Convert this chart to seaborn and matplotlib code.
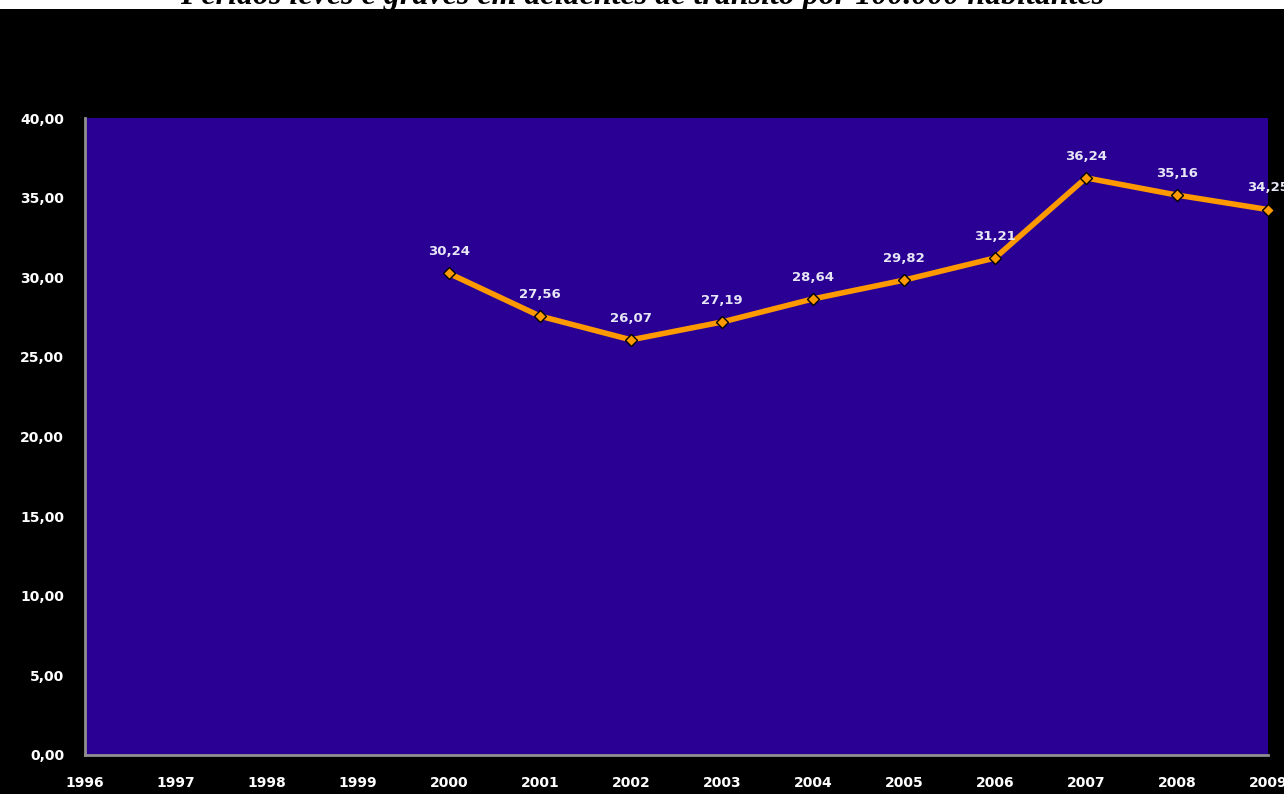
import matplotlib
matplotlib.use("Agg")
import matplotlib.pyplot as plt
import seaborn as sns
import pandas as pd
from matplotlib.patches import Rectangle

years = [2000, 2001, 2002, 2003, 2004, 2005, 2006, 2007, 2008, 2009]
values = [30.24, 27.56, 26.07, 27.19, 28.64, 29.82, 31.21, 36.24, 35.16, 34.25]
tick_years = list(range(1996, 2010))
title = "Feridos leves e graves em acidentes de trânsito por 100.000 habitantes"

sns.set_style("white")
plt.rcParams['font.family'] = ['DejaVu Sans']

df = pd.DataFrame({"ano": years, "valor": values})

fig = plt.figure(figsize=(12.84, 7.94), dpi=100, facecolor="black")
# white strip at the very top where the (cropped) title sits
fig.patches.append(Rectangle((0, 1 - 9/794), 1, 9/794, transform=fig.transFigure,
                             facecolor="white", edgecolor="none", zorder=0))

ax = fig.add_axes([85/1284, 39/794, 1183/1284, 637/794])
ax.set_facecolor("#2a0094")

sns.lineplot(data=df, x="ano", y="valor", ax=ax, color="#ff9900", linewidth=4,
             marker="D", markersize=6, markerfacecolor="#ff9900",
             markeredgecolor="black", markeredgewidth=1.0, clip_on=False)

for x, y in zip(years, values):
    ax.annotate(f"{y:.2f}".replace(".", ","), (x, y), xytext=(0, 11),
                textcoords="offset points", ha="center", va="bottom",
                color="#e6e6f5", fontsize=9.5, fontweight="bold", annotation_clip=False)

ax.set_xlim(1996, 2009)
ax.set_ylim(0, 40)
ax.set_xticks(tick_years)
ax.set_xticklabels([str(t) for t in tick_years])
ax.set_yticks(range(0, 41, 5))
ax.set_yticklabels([f"{v:.2f}".replace(".", ",") for v in range(0, 41, 5)])
ax.tick_params(axis="both", colors="#a0a0a0", labelcolor="white", labelsize=10,
               length=5, width=1.5, direction="out")
ax.tick_params(axis="y", pad=10)
ax.tick_params(axis="x", pad=10)
for lab in ax.get_xticklabels() + ax.get_yticklabels():
    lab.set_fontweight("bold")
ax.set_xlabel("")
ax.set_ylabel("")
for side in ["top", "right"]:
    ax.spines[side].set_visible(False)
for side in ["left", "bottom"]:
    ax.spines[side].set_color("#909090")
    ax.spines[side].set_linewidth(2)

fig.text(0.5, 1 - 4/794, title, ha="center", va="baseline", color="black",
         fontsize=23, fontweight="bold", fontstyle="italic", family="Liberation Serif")

fig.savefig("out.png", dpi=100, facecolor="black")
